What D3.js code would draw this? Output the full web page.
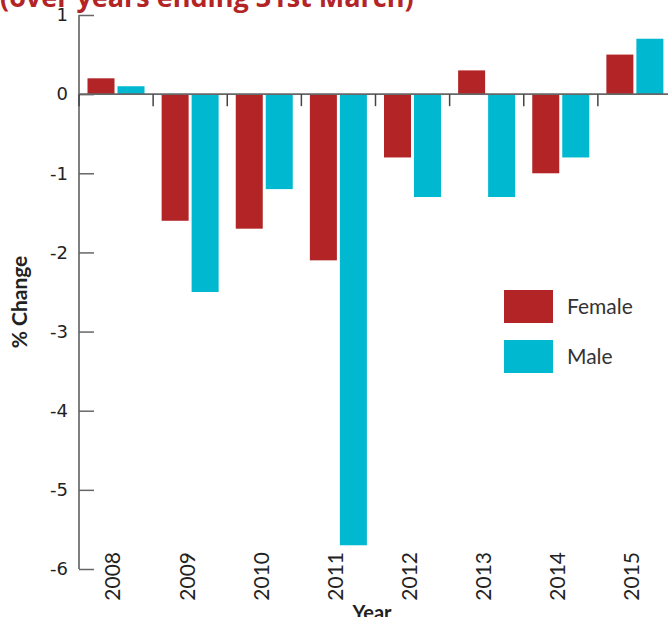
<!DOCTYPE html>
<html>
<head>
<meta charset="utf-8">
<script src="https://cdn.jsdelivr.net/npm/d3@7"></script>
<style>
  body { margin: 0; background: #fff; }
  svg { display: block; font-family: Lato, "Open Sans", sans-serif; }
</style>
</head>
<body>
<div id="chart"></div>
<script>
// data
const years = ['2008', '2009', '2010', '2011', '2012', '2013', '2014', '2015'];
const series = ['Female', 'Male'];
const femaleValues = [0.2, -1.6, -1.7, -2.1, -0.8, 0.3, -1.0, 0.5];
const maleValues = [0.1, -2.5, -1.2, -5.7, -1.3, -1.3, -0.8, 0.7];
const yTicks = [1, 0, -1, -2, -3, -4, -5, -6];

const colors = { Female: '#b22425', Male: '#00b8d0' };
const width = 668, height = 617;

const svg = d3.select('#chart').append('svg')
    .attr('width', width)
    .attr('height', height);

const x = d3.scaleBand().domain(years).range([79, 672]).padding(0);
const xInner = d3.scaleBand().domain(series).range([8.5, 65.5]).paddingInner(0.1);
const y = d3.scaleLinear().domain([-6, 1]).range([569, 15]);

const rows = years.map((yr, i) => ({ year: yr, Female: femaleValues[i], Male: maleValues[i] }));

// title, clipped at the top like the source
svg.append('text')
    .attr('x', 0)
    .attr('y', 7)
    .attr('fill', '#b22425')
    .style('font-family', '"Open Sans", sans-serif')
    .style('font-weight', 'bold')
    .style('font-size', '27px')
    .text('(over years ending 31st March)');

// bars
const groups = svg.selectAll('.year-group')
    .data(rows)
    .enter().append('g')
    .attr('class', 'year-group')
    .attr('transform', d => `translate(${x(d.year)},0)`);

groups.selectAll('rect')
    .data(d => series.map(s => ({ key: s, value: d[s] })))
    .enter().append('rect')
    .attr('x', d => xInner(d.key))
    .attr('width', xInner.bandwidth())
    .attr('y', d => y(Math.max(0, d.value)))
    .attr('height', d => Math.abs(y(d.value) - y(0)))
    .attr('fill', d => colors[d.key]);

// y axis with inward ticks
const yAxis = svg.append('g')
    .attr('transform', 'translate(79,0)')
    .call(d3.axisRight(y).tickValues(yTicks).tickSize(15).tickFormat(''));
yAxis.select('.domain').attr('stroke', '#555').attr('stroke-width', 1.5).attr('d', `M0,${y(1)}V${y(-6)}`);
yAxis.selectAll('.tick line').attr('stroke', '#666').attr('stroke-width', 1.5);

svg.selectAll('.y-label')
    .data(yTicks)
    .enter().append('text')
    .attr('class', 'y-label')
    .attr('x', 68)
    .attr('y', d => y(d))
    .attr('dy', '0.35em')
    .attr('text-anchor', 'end')
    .attr('fill', '#222')
    .style('font-family', '"DejaVu Sans", sans-serif')
    .style('font-size', '18px')
    .text(d => d);

// zero line with downward ticks at band edges
svg.append('line')
    .attr('x1', 79).attr('x2', width)
    .attr('y1', y(0)).attr('y2', y(0))
    .attr('stroke', '#666').attr('stroke-width', 1.8);

svg.selectAll('.band-tick')
    .data(years)
    .enter().append('line')
    .attr('class', 'band-tick')
    .attr('x1', d => x(d)).attr('x2', d => x(d))
    .attr('y1', y(0)).attr('y2', y(0) + 12)
    .attr('stroke', '#444').attr('stroke-width', 1.5);

// x labels, rotated
svg.selectAll('.x-label')
    .data(years)
    .enter().append('text')
    .attr('class', 'x-label')
    .attr('transform', d => `translate(${x(d) + x.bandwidth() / 2 - 3},552) rotate(-90)`)
    .attr('dy', '0.35em')
    .attr('text-anchor', 'end')
    .attr('fill', '#222')
    .style('font-size', '21px')
    .text(d => d);

// axis titles
svg.append('text')
    .attr('transform', 'translate(20,302) rotate(-90)')
    .attr('dy', '0.35em')
    .attr('text-anchor', 'middle')
    .attr('fill', '#222')
    .style('font-weight', 'bold')
    .style('font-size', '21px')
    .text('% Change');

svg.append('text')
    .attr('x', 372)
    .attr('y', 620)
    .attr('text-anchor', 'middle')
    .attr('fill', '#222')
    .style('font-weight', 'bold')
    .style('font-size', '20px')
    .text('Year');

// legend
const legend = svg.selectAll('.legend')
    .data(series)
    .enter().append('g')
    .attr('class', 'legend')
    .attr('transform', (d, i) => `translate(504,${290 + i * 50})`);

legend.append('rect')
    .attr('width', 49)
    .attr('height', 33)
    .attr('fill', d => colors[d]);

legend.append('text')
    .attr('x', 63)
    .attr('y', 17)
    .attr('dy', '0.35em')
    .attr('fill', '#333')
    .style('font-size', '21px')
    .text(d => d);
</script>
</body>
</html>
